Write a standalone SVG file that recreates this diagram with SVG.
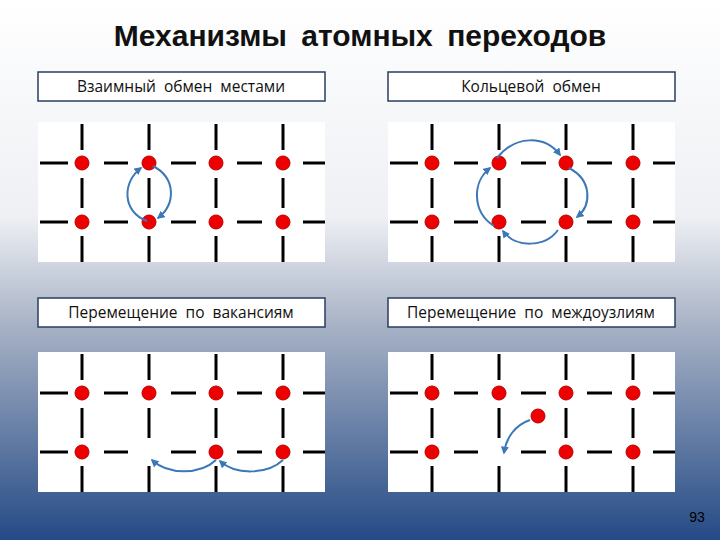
<svg xmlns="http://www.w3.org/2000/svg" xmlns:xlink="http://www.w3.org/1999/xlink" width="720" height="540" viewBox="0 0 720 540">
<style>
.lbl{fill:#fff;stroke:#2a3d60;stroke-width:1.5}
.lt{font-family:"Open Sans","DejaVu Sans",sans-serif;font-size:15.5px;fill:#111;text-anchor:middle;word-spacing:4px}
.g line{stroke:#000;stroke-width:3}
.a{fill:#e00;stroke:#b00;stroke-width:1}
.arr{fill:none;stroke:#3c78b8;stroke-width:2;marker-end:url(#m)}
</style>
<defs>
<linearGradient id="bg" x1="0" y1="0" x2="0" y2="1">
<stop offset="0" stop-color="#ffffff"/>
<stop offset="0.4" stop-color="#eef0f4"/>
<stop offset="0.6" stop-color="#a9b3c6"/>
<stop offset="1" stop-color="#244a85"/>
</linearGradient>
<marker id="m" viewBox="0 0 10 10" refX="8" refY="5" markerWidth="4" markerHeight="4" orient="auto"><path d="M0,0 L10,5 L0,10 z" fill="#3c78b8"/></marker>
<g id="grid" class="g">
<rect x="38" y="122" width="287" height="140" fill="#fff"/>
<line x1="40" y1="163" x2="68" y2="163"/><line x1="104" y1="163" x2="128" y2="163"/><line x1="171" y1="163" x2="196" y2="163"/><line x1="237" y1="163" x2="262" y2="163"/><line x1="303" y1="163" x2="325" y2="163"/>
<line x1="40" y1="222" x2="68" y2="222"/><line x1="104" y1="222" x2="128" y2="222"/><line x1="171" y1="222" x2="196" y2="222"/><line x1="237" y1="222" x2="262" y2="222"/><line x1="303" y1="222" x2="325" y2="222"/>
<line x1="82" y1="124" x2="82" y2="150"/><line x1="82" y1="178" x2="82" y2="208"/><line x1="82" y1="236" x2="82" y2="262"/>
<line x1="149" y1="124" x2="149" y2="150"/><line x1="149" y1="178" x2="149" y2="208"/><line x1="149" y1="236" x2="149" y2="262"/>
<line x1="216" y1="124" x2="216" y2="150"/><line x1="216" y1="178" x2="216" y2="208"/><line x1="216" y1="236" x2="216" y2="262"/>
<line x1="283" y1="124" x2="283" y2="150"/><line x1="283" y1="178" x2="283" y2="208"/><line x1="283" y1="236" x2="283" y2="262"/>
</g>
<g id="top"><circle class="a" cx="82" cy="163" r="7"/><circle class="a" cx="149" cy="163" r="7"/><circle class="a" cx="216" cy="163" r="7"/><circle class="a" cx="283" cy="163" r="7"/></g>
</defs>
<rect width="720" height="540" fill="url(#bg)"/>
<text x="360" y="46" font-family="Liberation Sans,Arial,sans-serif" font-size="30" font-weight="bold" text-anchor="middle" fill="#111" word-spacing="6">Механизмы  атомных  переходов</text>

<g id="panel1">
<rect class="lbl" x="38" y="72" width="287" height="29"/>
<text class="lt" x="181" y="92">Взаимный обмен местами</text>
<use xlink:href="#grid"/><use xlink:href="#top"/>
<circle class="a" cx="82" cy="222" r="7"/><circle class="a" cx="149" cy="222" r="7"/><circle class="a" cx="216" cy="222" r="7"/><circle class="a" cx="283" cy="222" r="7"/>
</g>
<g id="panel2" transform="translate(350,0)">
<rect class="lbl" x="38" y="72" width="287" height="29"/>
<text class="lt" x="181" y="92">Кольцевой обмен</text>
<use xlink:href="#grid"/><use xlink:href="#top"/>
<circle class="a" cx="82" cy="222" r="7"/><circle class="a" cx="149" cy="222" r="7"/><circle class="a" cx="216" cy="222" r="7"/><circle class="a" cx="283" cy="222" r="7"/>
</g>
<g id="panel3" transform="translate(0,230)">
<rect class="lbl" x="38" y="68" width="287" height="29"/>
<text class="lt" x="181" y="88">Перемещение по вакансиям</text>
<use xlink:href="#grid"/><use xlink:href="#top"/>
<circle class="a" cx="82" cy="222" r="7"/><circle class="a" cx="216" cy="222" r="7"/><circle class="a" cx="283" cy="222" r="7"/>
</g>
<g id="panel4" transform="translate(350,230)">
<rect class="lbl" x="38" y="68" width="287" height="29"/>
<text class="lt" x="181" y="88">Перемещение по междоузлиям</text>
<use xlink:href="#grid"/><use xlink:href="#top"/>
<circle class="a" cx="82" cy="222" r="7"/><circle class="a" cx="216" cy="222" r="7"/><circle class="a" cx="283" cy="222" r="7"/>
<circle class="a" cx="188" cy="186" r="7"/>
</g>

<g id="connectors">
<path class="arr" d="M147,221 C122,212 122,182 141,168"/>
<path class="arr" d="M153,166 C176,178 176,204 158,218"/>
<path class="arr" d="M497,158 C515,135 545,135 560,155"/>
<path class="arr" d="M569,168 C592,180 592,205 577,217"/>
<path class="arr" d="M558,230 C545,248 515,248 503,231"/>
<path class="arr" d="M494,226 C472,212 472,182 490,168"/>
<path class="arr" d="M216,460 C200,475 168,475 152,460"/>
<path class="arr" d="M283,460 C267,475 235,475 220,461"/>
<path class="arr" d="M530,420 C515,425 506,438 504,453"/>
</g>
<text x="697" y="522" font-family="Liberation Sans,Arial,sans-serif" font-size="14" text-anchor="middle" fill="#000">93</text>
</svg>
